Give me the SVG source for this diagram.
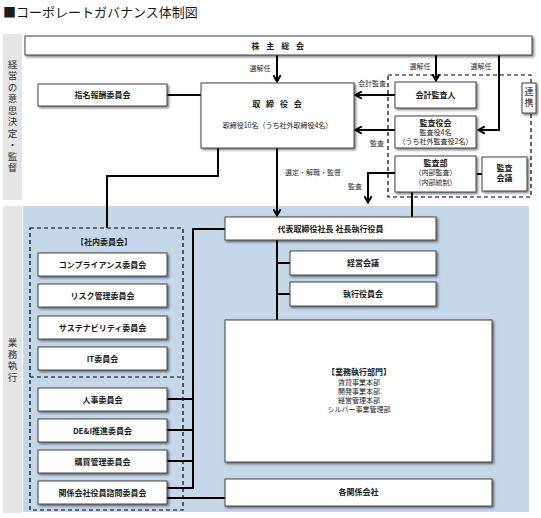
<svg xmlns="http://www.w3.org/2000/svg" width="541" height="518" viewBox="0 0 541 518">
<defs>
<filter id="sh" x="-10%" y="-10%" width="130%" height="140%">
<feDropShadow dx="1.5" dy="1.5" stdDeviation="0.8" flood-color="#000" flood-opacity="0.55"/>
</filter>
<marker id="ar" viewBox="0 0 10 10" refX="9" refY="5" markerWidth="9" markerHeight="9" markerUnits="userSpaceOnUse" orient="auto">
<path d="M1.5,1 L8.5,5 L1.5,9" fill="none" stroke="#000" stroke-width="2.2"/>
</marker>
<style>
text{font-family:"Noto Sans CJK JP","Noto Sans",sans-serif;fill:#1a1a1a}
.box{fill:#fff;stroke:#444;stroke-width:1;filter:url(#sh)}
.b{font-size:8px;font-weight:bold;text-anchor:middle}
.r{font-size:7px;text-anchor:middle}
.lb{font-size:7px;fill:#333}
.side{font-size:9.5px;fill:#333;text-anchor:middle;writing-mode:vertical-rl;letter-spacing:2px}
.ln{fill:none;stroke:#000;stroke-width:2}
.dash{fill:none;stroke:#000;stroke-width:1.2;stroke-dasharray:4 3}
</style>
</defs>
<rect width="541" height="518" fill="#fff"/>
<text x="3" y="17" font-size="13">■コーポレートガバナンス体制図</text>
<rect x="3" y="34" width="19" height="166" fill="#e5e5e5"/>
<rect x="3" y="206" width="19" height="307" fill="#e5e5e5"/>
<rect x="23" y="206" width="506" height="306" fill="#c6d7ea"/>
<text class="side" x="12.5" y="117">経営の意思決定・監督</text>
<text class="side" x="12.5" y="361">業務執行</text>
<rect class="dash" x="388" y="75" width="143" height="122"/>
<rect class="dash" x="30" y="228" width="153" height="282"/>
<line class="dash" x1="30" y1="377" x2="183" y2="377"/>
<g id="connectors">
<line class="ln" x1="277" y1="55" x2="277" y2="82" marker-end="url(#ar)"/>
<line class="ln" x1="436" y1="55" x2="436" y2="81" marker-end="url(#ar)"/>
<polyline class="ln" points="499,55 499,130 478,130" marker-end="url(#ar)"/>
<line class="ln" x1="395" y1="95" x2="355" y2="95" marker-end="url(#ar)"/>
<line class="ln" x1="395" y1="130" x2="355" y2="130" marker-end="url(#ar)"/>
<polyline class="ln" points="395,173 368,173 368,203" marker-end="url(#ar)"/>
<line class="ln" x1="412" y1="192" x2="412" y2="217"/>
<line class="ln" x1="477" y1="174" x2="482" y2="174"/>
<line class="ln" x1="277" y1="148" x2="277" y2="216" marker-end="url(#ar)"/>
<polyline class="ln" points="218,148 218,176 107,176 107,228"/>
<line class="ln" x1="167" y1="95" x2="201" y2="95"/>
<line class="ln" x1="277" y1="240" x2="277" y2="320"/>
<line class="ln" x1="277" y1="263" x2="290" y2="263"/>
<line class="ln" x1="277" y1="294" x2="290" y2="294"/>
<polyline class="ln" points="225,229 193,229 193,488 167,488"/>
<line class="ln" x1="167" y1="399" x2="193" y2="399"/>
<line class="ln" x1="167" y1="430" x2="193" y2="430"/>
<line class="ln" x1="167" y1="461" x2="193" y2="461"/>
<line class="ln" x1="167" y1="498" x2="225" y2="498"/>
<text class="lb" x="260" y="71" text-anchor="middle">選解任</text>
<text class="lb" x="420" y="69" text-anchor="middle">選解任</text>
<text class="lb" x="481" y="69" text-anchor="middle">選解任</text>
<text class="lb" x="372" y="86" text-anchor="middle">会計監査</text>
<text class="lb" x="377" y="146" text-anchor="middle">監査</text>
<text class="lb" x="355" y="189" text-anchor="middle">監査</text>
<text class="lb" x="285" y="175">選定・解職・監督</text>
</g>
<g id="shareholders"><rect class="box" x="25" y="36" width="507" height="19"/><text class="b" x="279" y="49" font-size="9" letter-spacing="2.5">株 主 総 会</text></g>
<g id="nomination"><rect class="box" x="38" y="84" width="129" height="22"/><text class="b" x="102.5" y="98">指名報酬委員会</text></g>
<g id="board"><rect class="box" x="201" y="83" width="153" height="65"/><text class="b" x="278" y="107" letter-spacing="2">取 締 役 会</text><text class="r" x="277.5" y="128" font-size="8">取締役10名（うち社外取締役4名）</text></g>
<g id="auditor"><rect class="box" x="395" y="82" width="81" height="26"/><text class="b" x="435.5" y="98">会計監査人</text></g>
<g id="audit-board"><rect class="box" x="395" y="116" width="81" height="32"/><text class="b" x="435.5" y="126">監査役会</text><text class="r" x="435.5" y="135">監査役4名</text><text class="r" x="435.5" y="144">（うち社外監査役2名）</text></g>
<g id="audit-dept"><rect class="box" x="395" y="156" width="81" height="36"/><text class="b" x="435.5" y="165.5">監査部</text><text class="r" x="435.5" y="175">（内部監査）</text><text class="r" x="435.5" y="185">（内部統制）</text></g>
<g id="audit-meeting"><rect class="box" x="482" y="157" width="45" height="34"/><text class="b" x="504.5" y="171">監査</text><text class="b" x="504.5" y="181">会議</text></g>
<g id="cooperation"><rect class="box" x="522" y="83" width="14" height="30"/><text x="529" y="98.5" font-size="9" text-anchor="middle" style="writing-mode:vertical-rl" letter-spacing="2">連携</text></g>
<g id="president"><rect class="box" x="225" y="217" width="211" height="23"/><text class="b" x="330.5" y="232">代表取締役社長 社長執行役員</text></g>
<g id="mgmt-meeting"><rect class="box" x="290" y="251" width="146" height="24"/><text class="b" x="363" y="266">経営会議</text></g>
<g id="exec-officers"><rect class="box" x="290" y="282" width="146" height="24"/><text class="b" x="363" y="297">執行役員会</text></g>
<g id="business-divisions"><rect class="box" x="225" y="320" width="267" height="142"/><text class="b" x="359" y="375">【業務執行部門】</text><text class="r" x="359" y="385" font-size="8">賃貸事業本部</text><text class="r" x="359" y="394" font-size="8">開発事業本部</text><text class="r" x="359" y="403" font-size="8">経営管理本部</text><text class="r" x="359" y="412" font-size="8">シルバー事業管理部</text></g>
<g id="affiliates"><rect class="box" x="225" y="479" width="267" height="27"/><text class="b" x="358.5" y="495">各関係会社</text></g>
<g id="internal-committees"><text class="b" x="104" y="245">【社内委員会】</text></g>
<g id="compliance"><rect class="box" x="38" y="253" width="129" height="23"/><text class="b" x="102.5" y="267.5">コンプライアンス委員会</text></g>
<g id="risk"><rect class="box" x="38" y="284" width="129" height="23"/><text class="b" x="102.5" y="298.5">リスク管理委員会</text></g>
<g id="sustainability"><rect class="box" x="38" y="316" width="129" height="23"/><text class="b" x="102.5" y="330.5">サステナビリティ委員会</text></g>
<g id="it"><rect class="box" x="38" y="347" width="129" height="23"/><text class="b" x="102.5" y="361.5">IT委員会</text></g>
<g id="hr"><rect class="box" x="38" y="388" width="129" height="23"/><text class="b" x="102.5" y="402.5">人事委員会</text></g>
<g id="dei"><rect class="box" x="38" y="419" width="129" height="23"/><text class="b" x="102.5" y="433.5">DE&amp;I推進委員会</text></g>
<g id="purchasing"><rect class="box" x="38" y="450" width="129" height="23"/><text class="b" x="102.5" y="464.5">購買管理委員会</text></g>
<g id="affiliate-advisory"><rect class="box" x="38" y="481" width="129" height="23"/><text class="b" x="102.5" y="495.5">関係会社役員諮問委員会</text></g>
</svg>
